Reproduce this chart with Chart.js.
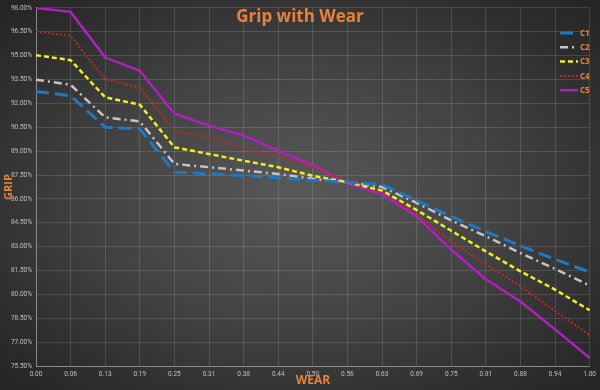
<!DOCTYPE html>
<html>
<head>
<meta charset="utf-8">
<script src="https://cdn.jsdelivr.net/npm/chart.js@4.4.1/dist/chart.umd.min.js"></script>
<style>
    body { margin: 0; background: #222; }
    #wrap {
        width: 600px; height: 390px;
        background: radial-gradient(ellipse at 50% 50%, #595959 0%, #444 45%, #2e2e2e 80%, #242424 100%);
    }
</style>
</head>
<body>
<div id="wrap"><canvas id="myChart" width="600" height="390"></canvas></div>
<script>
const wear = ['0.00', '0.06', '0.13', '0.19', '0.25', '0.31', '0.38', '0.44', '0.50',
    '0.56', '0.63', '0.69', '0.75', '0.81', '0.88', '0.94', '1.00'];

const c1 = [92.75, 92.48, 90.50, 90.40, 87.68, 87.57, 87.47, 87.32, 87.16, 87.05, 86.90, 85.90, 84.90, 83.95, 83.05, 82.20, 81.40];
const c2 = [93.49, 93.17, 91.12, 90.87, 88.20, 87.99, 87.78, 87.57, 87.26, 87.05, 86.75, 85.75, 84.65, 83.65, 82.60, 81.60, 80.55];
const c3 = [95.03, 94.72, 92.38, 91.92, 89.24, 88.82, 88.40, 87.99, 87.45, 87.05, 86.52, 85.30, 84.00, 82.70, 81.45, 80.30, 79.00];
const c4 = [96.52, 96.25, 93.53, 93.00, 90.29, 89.87, 89.13, 88.71, 87.99, 87.05, 86.45, 85.05, 83.30, 81.90, 80.50, 78.95, 77.45];
const c5 = [98.00, 97.75, 94.88, 94.05, 91.35, 90.60, 89.98, 89.03, 88.10, 86.97, 86.30, 84.90, 82.80, 80.95, 79.55, 77.80, 76.00];

const seriesNames = ['C1', 'C2', 'C3', 'C4', 'C5'];

const orange = '#e8823a';
const tickFont = { size: 6.5, family: 'Roboto' };

// title, axis titles and legend drawn on top of the plot area
const overlay = {
    id: 'overlay',
    afterDraw(chart) {
        const ctx = chart.ctx;
        ctx.save();
        ctx.fillStyle = orange;
        ctx.textAlign = 'center';
        ctx.textBaseline = 'middle';
        ctx.font = 'bold 17px "Open Sans"';
        ctx.fillText('Grip with Wear', 300, 17);

        ctx.font = 'bold 12px "Open Sans"';
        ctx.fillText('WEAR', 313, 381);

        ctx.save();
        ctx.translate(9, 187);
        ctx.rotate(-Math.PI / 2);
        ctx.font = 'bold 11px "Open Sans"';
        ctx.fillText('GRIP', 0, 0);
        ctx.restore();

        // legend
        ctx.textAlign = 'left';
        ctx.font = 'bold 8px "Open Sans"';
        chart.data.datasets.forEach((ds, i) => {
            const y = 33 + i * 14.3;
            ctx.strokeStyle = ds.borderColor;
            ctx.lineWidth = ds.borderWidth;
            ctx.setLineDash(ds.borderDash || []);
            ctx.beginPath();
            ctx.moveTo(560, y);
            ctx.lineTo(578, y);
            ctx.stroke();
            ctx.setLineDash([]);
            ctx.fillStyle = orange;
            ctx.fillText(ds.label, 580, y + 0.5);
        });
        ctx.restore();
    }
};

const ctx = document.getElementById('myChart').getContext('2d');
const chart = new Chart(ctx, {
    type: 'line',
    data: {
        labels: wear,
        datasets: [{
            label: seriesNames[0],
            data: c1,
            borderColor: '#1f78c0',
            borderWidth: 3,
            borderDash: [13, 6]
        }, {
            label: seriesNames[1],
            data: c2,
            borderColor: '#c4c4c4',
            borderWidth: 2.5,
            borderDash: [8, 4, 2, 4]
        }, {
            label: seriesNames[2],
            data: c3,
            borderColor: '#f0f020',
            borderWidth: 2.5,
            borderDash: [5, 3]
        }, {
            label: seriesNames[3],
            data: c4,
            borderColor: '#c02828',
            borderWidth: 2,
            borderDash: [2, 2]
        }, {
            label: seriesNames[4],
            data: c5,
            borderColor: '#b020c0',
            borderWidth: 2.5
        }]
    },
    options: {
        responsive: false,
        animation: false,
        devicePixelRatio: 1,
        elements: {
            point: { radius: 0 },
            line: { tension: 0, borderCapStyle: 'butt' }
        },
        layout: {
            padding: { left: 0, right: 10, top: 7, bottom: 0 }
        },
        plugins: {
            legend: { display: false },
            title: { display: false },
            tooltip: { enabled: false }
        },
        scales: {
            x: {
                grid: { color: 'rgba(255,255,255,0.13)', drawTicks: false },
                border: { color: '#8a8a8a' },
                ticks: {
                    color: '#c0c0c0',
                    font: tickFont,
                    maxRotation: 0,
                    autoSkip: false,
                    padding: 4
                },
                afterFit(scale) { scale.height = 24; }
            },
            y: {
                min: 75.5,
                max: 98,
                grid: { color: 'rgba(255,255,255,0.13)', drawTicks: false },
                border: { color: '#8a8a8a' },
                ticks: {
                    stepSize: 1.5,
                    color: '#c0c0c0',
                    font: tickFont,
                    padding: 4,
                    callback: v => v.toFixed(2) + '%'
                },
                afterFit(scale) { scale.width = 36; }
            }
        }
    },
    plugins: [overlay]
});
</script>
</body>
</html>
